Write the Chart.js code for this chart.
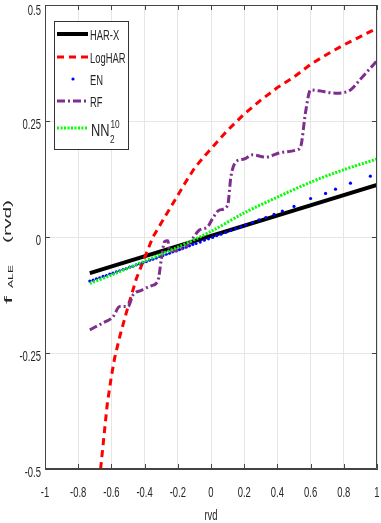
<!DOCTYPE html>
<html>
<head>
<meta charset="utf-8">
<script src="https://cdn.jsdelivr.net/npm/chart.js@4.4.1/dist/chart.umd.min.js"></script>
<style>
html,body{margin:0;padding:0;background:#fff;}
#wrap{width:381px;height:523px;position:relative;}
</style>
</head>
<body>
<div id="wrap"><canvas id="c" width="381" height="523"></canvas></div>
<script>
// ---- data ----
const xTickValues = [-1, -0.8, -0.6, -0.4, -0.2, 0, 0.2, 0.4, 0.6, 0.8, 1];
const xTickLabels = ['-1', '-0.8', '-0.6', '-0.4', '-0.2', '0', '0.2', '0.4', '0.6', '0.8', '1'];
const yTickValues = [-0.5, -0.25, 0, 0.25, 0.5];
const yTickLabels = ['-0.5', '-0.25', '0', '0.25', '0.5'];

const seriesNames = ['HAR-X', 'LogHAR', 'EN', 'RF', 'NN'];

const harxX = [-0.73, 1.0];
const harxY = [-0.078, 0.112];

const logharX = [-0.665, -0.645, -0.625, -0.6, -0.58, -0.55, -0.5, -0.45, -0.4, -0.35, -0.3, -0.25, -0.2, -0.15, -0.1, -0.05, 0, 0.1, 0.2, 0.3, 0.4, 0.5, 0.6, 0.7, 0.8, 0.9, 1.0];
const logharY = [-0.5, -0.43, -0.36, -0.3, -0.26, -0.215, -0.15, -0.09, -0.045, 0.0, 0.03, 0.06, 0.09, 0.12, 0.148, 0.17, 0.19, 0.23, 0.265, 0.295, 0.322, 0.345, 0.372, 0.394, 0.414, 0.432, 0.45];

const enX = [-0.73, -0.71, -0.69, -0.67, -0.65, -0.63, -0.61, -0.59, -0.57, -0.55, -0.53, -0.51, -0.49, -0.47, -0.45, -0.43, -0.41, -0.39, -0.37, -0.35, -0.33, -0.31, -0.29, -0.27, -0.25, -0.23, -0.21, -0.19, -0.17, -0.15, -0.13, -0.11, -0.09, -0.065, -0.04, -0.015, 0.01, 0.035, 0.06, 0.09, 0.12, 0.15, 0.18, 0.21, 0.25, 0.29, 0.33, 0.38, 0.43, 0.5, 0.6, 0.69, 0.75, 0.84, 0.96];
const enY = [-0.095, -0.093, -0.090, -0.088, -0.085, -0.083, -0.080, -0.078, -0.075, -0.073, -0.070, -0.068, -0.065, -0.063, -0.060, -0.058, -0.055, -0.053, -0.050, -0.048, -0.045, -0.042, -0.040, -0.037, -0.035, -0.032, -0.030, -0.027, -0.024, -0.022, -0.019, -0.016, -0.014, -0.011, -0.007, -0.004, -0.001, 0.003, 0.006, 0.010, 0.014, 0.018, 0.022, 0.026, 0.031, 0.037, 0.042, 0.049, 0.056, 0.066, 0.083, 0.094, 0.103, 0.116, 0.131];

const rfX = [-0.73, -0.65, -0.59, -0.55, -0.5, -0.47, -0.42, -0.36, -0.32, -0.3, -0.28, -0.26, -0.25, -0.2, -0.15, -0.11, -0.07, -0.02, 0.01, 0.05, 0.1, 0.12, 0.15, 0.2, 0.25, 0.33, 0.41, 0.51, 0.54, 0.57, 0.6, 0.65, 0.75, 0.84, 0.9, 1.0];
const rfY = [-0.2, -0.185, -0.172, -0.15, -0.15, -0.125, -0.115, -0.105, -0.095, -0.05, -0.01, -0.008, -0.03, -0.028, -0.02, -0.003, 0.015, 0.022, 0.04, 0.058, 0.068, 0.13, 0.162, 0.168, 0.177, 0.172, 0.181, 0.187, 0.195, 0.27, 0.317, 0.315, 0.31, 0.317, 0.34, 0.38];

const nnX = [-0.73, -0.6, -0.4, -0.2, 0, 0.2, 0.4, 0.6, 0.8, 1.0];
const nnY = [-0.100, -0.082, -0.052, -0.022, 0.012, 0.052, 0.086, 0.118, 0.145, 0.168];

// ---- helpers ----
const pts = (xs, ys) => xs.map((x, i) => ({x: x, y: ys[i]}));
const FONT_REG = "'Liberation Sans', Arial, sans-serif";
const TXT = '#262626';
const SX = 0.67; // horizontal squeeze of the reference's narrow text

const styles = {
  'HAR-X': {color: '#000000', width: 4, dash: []},
  'LogHAR': {color: '#FF0000', width: 3, dash: [7, 5]},
  'EN': {color: '#0000FF', width: 0, dash: []},
  'RF': {color: '#7E2F8E', width: 3, dash: [8, 3, 2, 3]},
  'NN': {color: '#00FF00', width: 3, dash: [2, 1.5]}
};

// draw text squeezed horizontally; align: 'left'|'center'|'right'
function squeezed(ctx, text, x, y, size, align, sx) {
  ctx.save();
  ctx.font = size + 'px ' + FONT_REG;
  const w = ctx.measureText(text).width * sx;
  let left = x;
  if (align === 'center') left = x - w / 2;
  else if (align === 'right') left = x - w;
  ctx.translate(left, y);
  ctx.scale(sx, 1);
  ctx.textAlign = 'left';
  ctx.textBaseline = 'alphabetic';
  ctx.fillStyle = TXT;
  ctx.fillText(text, 0, 0);
  ctx.restore();
  return w;
}

function drawStretched(ctx, text, font, baseX, startY, length) {
  ctx.save();
  ctx.font = font;
  ctx.translate(baseX, startY);
  ctx.rotate(-Math.PI / 2);
  const w = ctx.measureText(text).width;
  ctx.scale(length / w, 1);
  ctx.textBaseline = 'alphabetic';
  ctx.textAlign = 'left';
  ctx.fillStyle = TXT;
  ctx.fillText(text, 0, 0);
  ctx.restore();
}

const framePlugin = {
  id: 'frame',
  afterDatasetsDraw(chart) {
    const ctx = chart.ctx;
    const a = chart.chartArea;
    const xs = chart.scales.x, ys = chart.scales.y;
    ctx.save();
    // box
    ctx.strokeStyle = '#444';
    ctx.lineWidth = 1;
    ctx.beginPath();
    ctx.moveTo(a.left + 0.5, a.top + 0.5);
    ctx.lineTo(a.right - 0.5, a.top + 0.5);
    ctx.lineTo(a.right - 0.5, a.bottom - 0.5);
    ctx.lineTo(a.left + 0.5, a.bottom - 0.5);
    ctx.closePath();
    ctx.stroke();
    // inward ticks
    const L = 5;
    ctx.beginPath();
    xTickValues.forEach(v => {
      const px = Math.round(xs.getPixelForValue(v)) + 0.5;
      ctx.moveTo(px, a.bottom); ctx.lineTo(px, a.bottom - L);
      ctx.moveTo(px, a.top); ctx.lineTo(px, a.top + L);
    });
    yTickValues.forEach(v => {
      const py = Math.round(ys.getPixelForValue(v)) + 0.5;
      ctx.moveTo(a.left, py); ctx.lineTo(a.left + L, py);
      ctx.moveTo(a.right, py); ctx.lineTo(a.right - L, py);
    });
    ctx.stroke();

    // tick labels (positions from the scales)
    xTickValues.forEach((v, i) => {
      squeezed(ctx, xTickLabels[i], xs.getPixelForValue(v), a.bottom + 27.5, 15, 'center', 0.63);
    });
    yTickValues.forEach((v, i) => {
      let yy = ys.getPixelForValue(v) + 7.5;
      if (i === yTickValues.length - 1) yy += 2;
      squeezed(ctx, yTickLabels[i], a.left - 4, yy, 15, 'right', 0.63);
    });

    // legend
    const bx = 54.5, by = 21.5, bw = 74, bh = 128;
    ctx.fillStyle = '#fff';
    ctx.fillRect(bx, by, bw, bh);
    ctx.strokeStyle = '#333';
    ctx.lineWidth = 1;
    ctx.strokeRect(bx, by, bw, bh);
    const rowsY = [34, 57, 79, 101, 128];
    seriesNames.forEach((name, i) => {
      const st = styles[name];
      const y = rowsY[i];
      if (name === 'EN') {
        ctx.fillStyle = st.color;
        ctx.beginPath(); ctx.arc(73, y, 1.6, 0, Math.PI * 2); ctx.fill();
      } else {
        ctx.strokeStyle = st.color;
        ctx.lineWidth = st.width;
        ctx.setLineDash(st.dash);
        ctx.beginPath(); ctx.moveTo(57, y); ctx.lineTo(88, y); ctx.stroke();
        ctx.setLineDash([]);
      }
      if (name === 'NN') {
        const w = squeezed(ctx, 'NN', 91, y + 8, 16, 'left', 0.8);
        squeezed(ctx, '2', 91 + w + 0.5, y + 15, 11, 'left', 0.75);
        squeezed(ctx, '10', 91 + w + 1, y, 11, 'left', 0.75);
      } else {
        squeezed(ctx, name, 90, y + 6, 14, 'left', SX);
      }
    });

    // x axis label
    squeezed(ctx, 'rvd', xs.getPixelForValue(0), 520, 15, 'center', 0.63);

    // y axis label (stretched pieces)
    drawStretched(ctx, 'f', '11px ' + FONT_REG, 12, 304, 8);
    drawStretched(ctx, 'ALE', '8px ' + FONT_REG, 13, 288, 23);
    drawStretched(ctx, '(rvd)', '11px ' + FONT_REG, 11, 243, 43);
    ctx.restore();
  }
};

const datasets = [
  {label: 'HAR-X', data: pts(harxX, harxY), showLine: true, borderColor: styles['HAR-X'].color, borderWidth: 4, pointRadius: 0, order: 5},
  {label: 'LogHAR', data: pts(logharX, logharY), showLine: true, borderColor: styles['LogHAR'].color, borderWidth: 3, borderDash: styles['LogHAR'].dash, pointRadius: 0, order: 4},
  {label: 'EN', data: pts(enX, enY), showLine: false, backgroundColor: styles['EN'].color, borderColor: styles['EN'].color, borderWidth: 0, pointRadius: 1.6, order: 3},
  {label: 'RF', data: pts(rfX, rfY), showLine: true, borderColor: styles['RF'].color, borderWidth: 3, borderDash: styles['RF'].dash, pointRadius: 0, order: 2, cubicInterpolationMode: 'monotone'},
  {label: 'NN', data: pts(nnX, nnY), showLine: true, borderColor: styles['NN'].color, borderWidth: 3, borderDash: styles['NN'].dash, pointRadius: 0, order: 1, tension: 0.3}
];

new Chart(document.getElementById('c'), {
  type: 'scatter',
  data: {datasets: datasets},
  options: {
    responsive: false,
    animation: false,
    devicePixelRatio: 1,
    layout: {padding: {top: 5, right: 2, left: 0, bottom: 0}},
    plugins: {legend: {display: false}, tooltip: {enabled: false}},
    elements: {line: {tension: 0, fill: false}},
    scales: {
      x: {
        type: 'linear', min: -1, max: 1,
        afterBuildTicks: s => { s.ticks = xTickValues.map(v => ({value: v})); },
        afterFit: s => { s.height = 54; s.paddingLeft = 0; s.paddingRight = 0; },
        ticks: {display: false, autoSkip: false},
        grid: {color: '#e6e6e6', drawTicks: false},
        border: {display: true, color: '#444', width: 1}
      },
      y: {
        type: 'linear', min: -0.5, max: 0.5,
        afterBuildTicks: s => { s.ticks = yTickValues.map(v => ({value: v})); },
        afterFit: s => { s.width = 45; s.paddingTop = 0; s.paddingBottom = 0; },
        ticks: {display: false, autoSkip: false},
        grid: {color: '#e6e6e6', drawTicks: false},
        border: {display: true, color: '#444', width: 1}
      }
    }
  },
  plugins: [framePlugin]
});
</script>
</body>
</html>
